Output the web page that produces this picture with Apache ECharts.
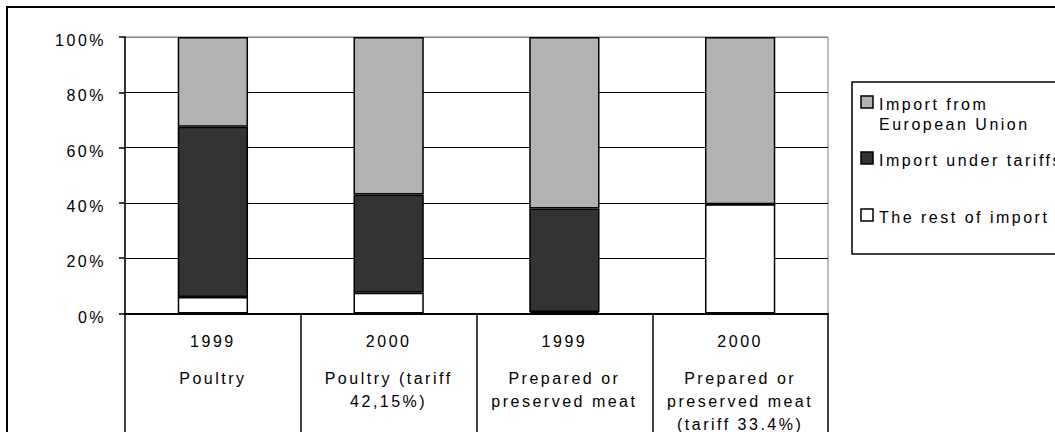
<!DOCTYPE html>
<html>
<head>
<meta charset="utf-8">
<script src="https://cdn.jsdelivr.net/npm/echarts@6/dist/echarts.min.js"></script>
<style>
  html, body { margin: 0; padding: 0; background: #fff; }
  #chart { width: 1055px; height: 432px; letter-spacing: 2.5px; }
</style>
</head>
<body>
<div id="chart"></div>
<script>
// Share of meat imports by source (percent of total)
const years = ['1999', '2000', '1999', '2000'];
const products = [
  'Poultry',
  'Poultry (tariff\n42,15%)',
  'Prepared or\npreserved meat',
  'Prepared or\npreserved meat\n(tariff 33.4%)'
];
const seriesNames = ['The rest of import', 'Import under tariffs', 'Import from\nEuropean Union'];
const restOfImport = [6, 7.5, 0.5, 39.5];
const underTariffs = [61.5, 35.5, 37.5, 0];
const fromEU = [32.5, 57, 62, 60.5];
const yTicks = [0, 20, 40, 60, 80, 100];

const fills = ['#ffffff', '#333333', '#b2b2b2'];
const values = [restOfImport, underTariffs, fromEU];
const FONT = 'Liberation Sans, Arial, sans-serif';

const chart = echarts.init(document.getElementById('chart'), null, { renderer: 'svg' });

const categories = years.map((y, i) => y + '|' + products[i]);

const series = seriesNames.map((name, k) => ({
  name: name,
  type: 'bar',
  stack: 'share',
  barWidth: '40%',
  data: values[k],
  itemStyle: { color: fills[k], borderColor: '#000', borderWidth: 1.5 },
  emphasis: { disabled: true },
  animation: false
}));

// Legend drawn as a boxed key; topmost stack segment listed first
const legendOrder = [2, 1, 0];
const legendTops = [96, 152, 209];
const legendGraphics = [{
  type: 'rect',
  shape: { x: 852, y: 82, width: 260, height: 172 },
  style: { fill: '#fff', stroke: '#000', lineWidth: 1.5 }
}];
legendOrder.forEach((k, i) => {
  legendGraphics.push({
    type: 'rect',
    shape: { x: 861, y: legendTops[i], width: 12, height: 12 },
    style: { fill: fills[k], stroke: '#000', lineWidth: 1.5 }
  });
  legendGraphics.push({
    type: 'text',
    x: 879,
    y: legendTops[i] - 2,
    style: {
      text: seriesNames[k],
      font: '16px ' + FONT,
      fill: '#000',
      lineHeight: 20,
      textVerticalAlign: 'top'
    }
  });
});

chart.setOption({
  animation: false,
  grid: {
    left: 125, right: 227, top: 37, bottom: 118,
    show: true, borderColor: '#808080', borderWidth: 1, backgroundColor: 'transparent'
  },
  xAxis: {
    type: 'category',
    data: categories,
    axisLine: { lineStyle: { color: '#000', width: 2 } },
    axisTick: { show: true, length: 125, lineStyle: { color: '#000', width: 1.5 } },
    axisLabel: {
      margin: 2,
      interval: 0,
      formatter: (v) => {
        const [y, p] = v.split('|');
        return '{y|' + y + '}\n' + p.split('\n').map(s => '{n|' + s + '}').join('\n');
      },
      rich: {
        y: { fontSize: 16, fontFamily: FONT, color: '#000', lineHeight: 51, align: 'center' },
        n: { fontSize: 16, fontFamily: FONT, color: '#000', lineHeight: 23, align: 'center' }
      }
    }
  },
  yAxis: {
    type: 'value',
    min: yTicks[0],
    max: yTicks[yTicks.length - 1],
    interval: yTicks[1] - yTicks[0],
    axisLine: { show: true, lineStyle: { color: '#000', width: 1.5 } },
    axisTick: { show: true, length: 6, lineStyle: { color: '#000', width: 1.5 } },
    axisLabel: {
      margin: 19,
      formatter: (v) => '{v|' + v + '%}',
      rich: {
        v: { fontSize: 16, fontFamily: FONT, color: '#000', padding: [7, 0, 0, 0], align: 'right' }
      }
    },
    splitLine: {
      show: true,
      lineStyle: { color: ['#000', '#000', '#000', '#000', '#000', '#808080'], width: 1.2 }
    }
  },
  series: series,
  graphic: [
    {
      type: 'rect',
      shape: { x: 7, y: 7, width: 1200, height: 600 },
      style: { fill: 'none', stroke: '#000', lineWidth: 2 },
      silent: true
    }
  ].concat(legendGraphics)
});
</script>
</body>
</html>
